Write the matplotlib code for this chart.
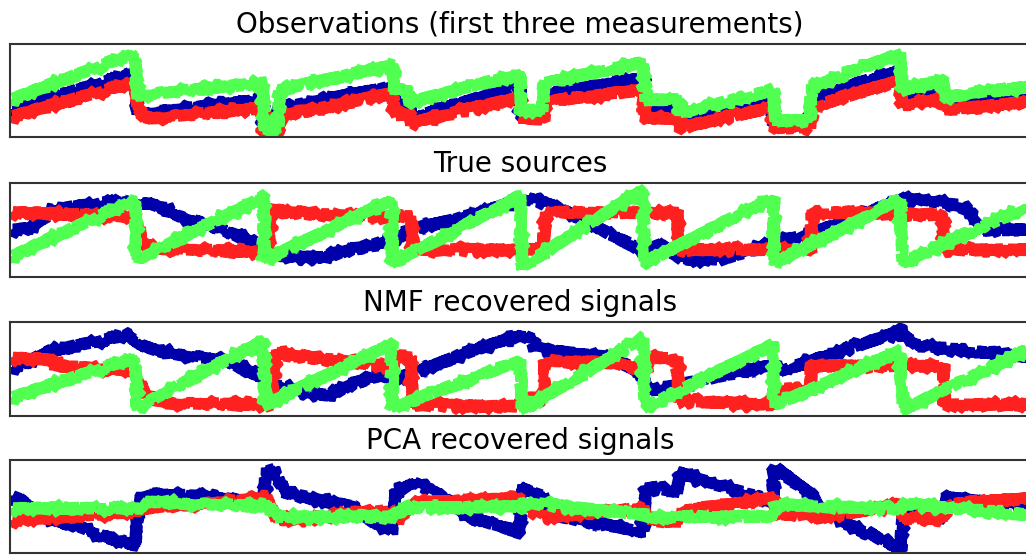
import matplotlib
matplotlib.use('Agg')
import matplotlib.pyplot as plt

# colours used for the three signals
colors = ['#0000aa', '#ff2020', '#50ff50']

titles = ['Observations (first three measurements)', 'True sources',
          'NMF recovered signals', 'PCA recovered signals']

# (time, value) pairs, value scale 0..10

# observations
obs_blue = [(10,2.9),(135,6.9),(137,2.5),(263,4.0),(265,0.6),(278,0.6),(279,3.1),(393,5.4),(395,3.65),(410,3.65),(411,2.0),(520,5.6),(521,2.3),(543,2.3),(544,4.6),(643,6.3),(645,3.1),(680,3.1),(681,1.5),(773,4.2),(775,1.3),(810,1.3),(811,4.2),(900,7.2),(902,4.3),(943,5.05),(945,3.2),(1030,4.3)]
obs_red = [(10,2.15),(135,5.9),(137,3.2),(145,2.0),(263,3.1),(265,0.4),(278,0.4),(279,2.2),(393,4.7),(395,2.4),(410,2.4),(411,1.5),(520,4.3),(521,2.0),(543,2.0),(544,3.8),(643,5.05),(645,2.0),(680,2.0),(681,1.0),(773,3.2),(775,1.0),(810,1.0),(811,3.2),(900,6.1),(902,3.4),(943,4.2),(945,2.9),(1030,3.8)]
obs_green = [(10,4.0),(135,9.0),(137,4.5),(263,5.8),(265,0.75),(278,0.75),(279,5.05),(393,7.7),(395,4.8),(410,4.8),(411,3.8),(520,6.8),(521,2.9),(543,2.9),(544,5.8),(643,8.0),(645,4.0),(680,4.0),(681,2.6),(773,5.05),(775,1.8),(810,1.8),(811,5.4),(900,9.0),(902,5.05),(943,6.1),(945,4.3),(1030,5.4)]

# true sources
src_blue = [(10,5.0),(30,5.2),(55,7.2),(110,8.0),(150,7.8),(180,6.5),(210,5.5),(240,4.3),(260,3.2),(270,2.3),(320,2.1),(365,3.2),(400,4.3),(410,5.0),(470,6.5),(520,8.2),(530,8.3),(555,7.5),(580,6.3),(610,4.5),(643,2.9),(660,3.5),(680,2.0),(720,1.8),(773,3.6),(830,5.3),(900,8.2),(920,8.3),(965,7.5),(985,5.0),(1030,5.0)]
src_red = [(10,6.9),(135,6.4),(139,6.4),(141,3.6),(150,3.1),(268,2.6),(270,7.5),(280,6.9),(393,6.3),(395,6.6),(411,6.4),(413,2.9),(543,2.9),(545,6.9),(677,6.8),(679,2.9),(810,2.9),(812,6.9),(943,6.6),(945,2.9),(1030,2.9)]
src_green = [(10,2.1),(135,8.2),(137,1.8),(263,8.5),(265,1.8),(391,8.2),(393,1.5),(520,8.6),(522,1.1),(643,9.3),(645,1.5),(773,8.5),(775,1.5),(900,8.2),(902,1.5),(1030,7.6)]

# NMF components
nmf_blue = [(10,5.1),(23,5.5),(50,6.9),(127,8.6),(143,7.5),(157,6.9),(227,5.9),(263,4.0),(273,3.3),(290,2.9),(327,2.2),(377,4.4),(403,4.0),(460,6.5),(520,8.6),(530,8.3),(535,7.2),(610,6.2),(640,4.8),(650,2.7),(773,5.4),(780,4.8),(833,6.6),(900,9.0),(917,7.5),(1000,6.6),(1030,6.2)]
nmf_red = [(10,6.2),(50,6.0),(60,5.3),(135,4.8),(137,4.6),(140,3.8),(145,2.2),(165,1.4),(263,1.2),(270,1.2),(275,6.9),(290,6.4),(343,5.9),(393,5.1),(395,6.5),(410,6.3),(413,1.2),(520,1.0),(527,1.9),(543,1.9),(545,5.9),(617,5.6),(647,4.8),(650,6.2),(677,6.2),(679,1.6),(773,1.2),(775,2.9),(810,2.9),(812,5.3),(943,5.4),(945,1.2),(1030,1.2)]
nmf_green = [(10,1.9),(135,6.2),(137,0.9),(263,8.0),(265,1.2),(391,7.6),(393,0.9),(520,5.9),(522,0.6),(643,8.3),(645,0.9),(773,7.6),(775,1.2),(900,6.9),(902,0.6),(1030,7.1)]

# PCA components
pca_blue = [(10,6.2),(20,5.8),(43,3.9),(80,2.8),(110,1.5),(135,0.9),(140,6.0),(150,6.4),(200,6.1),(263,5.4),(266,8.9),(277,8.4),(283,6.6),(350,5.0),(367,3.8),(392,2.3),(396,6.6),(413,7.6),(433,6.6),(453,5.4),(470,3.8),(519,2.3),(520,7.0),(543,6.2),(550,4.1),(643,2.3),(646,7.0),(677,6.6),(680,8.6),(773,5.5),(775,9.2),(813,6.2),(820,4.6),(900,0.5),(903,4.6),(943,3.9),(947,6.0),(1030,4.9)]
pca_red = [(10,3.5),(135,4.4),(143,4.8),(267,5.9),(277,3.5),(390,4.6),(397,3.7),(417,5.4),(520,5.9),(522,4.9),(543,3.9),(645,4.8),(650,3.4),(680,3.4),(682,4.5),(773,5.9),(777,4.2),(810,4.2),(815,3.7),(900,5.2),(903,3.7),(943,3.7),(947,5.2),(1030,5.9)]
pca_green = [(10,4.8),(140,4.8),(145,5.5),(270,5.0),(277,3.9),(393,3.9),(400,4.8),(520,5.0),(530,5.4),(645,4.1),(650,3.9),(773,3.9),(777,5.2),(900,4.7),(905,5.3),(1030,4.1)]

panels = [
    [obs_blue, obs_red, obs_green],
    [src_blue, src_red, src_green],
    [nmf_blue, nmf_red, nmf_green],
    [pca_blue, pca_red, pca_green],
]

fig = plt.figure(figsize=(10.26, 5.56), dpi=100)

# axes boxes in pixels (top, bottom) of the reference
boxes = [(44, 137), (183, 277), (322, 416), (460, 553)]
W, H = 1026., 556.
left, right = 10, 1030

for (top, bot), title, series in zip(boxes, titles, panels):
    ax = fig.add_axes([left / W, 1 - bot / H, (right - left) / W, (bot - top) / H])
    for s, c in zip(series, colors):
        t, v = zip(*s)
        line, = ax.plot(t, v, '-', color=c, lw=5.5,
                        solid_joinstyle='bevel', solid_capstyle='butt')
        # rough, jittery stroke to look like the noisy measurements
        line.set_sketch_params(scale=6, length=1.5, randomness=4)
    ax.set_xlim(10, 1030)
    ax.set_ylim(0, 10)
    ax.set_xticks([])
    ax.set_yticks([])
    for sp in ax.spines.values():
        sp.set_color('#333333')
        sp.set_linewidth(1.5)
    ax.set_title(title, fontsize=20, pad=8)

fig.savefig('out.png', dpi=100)
